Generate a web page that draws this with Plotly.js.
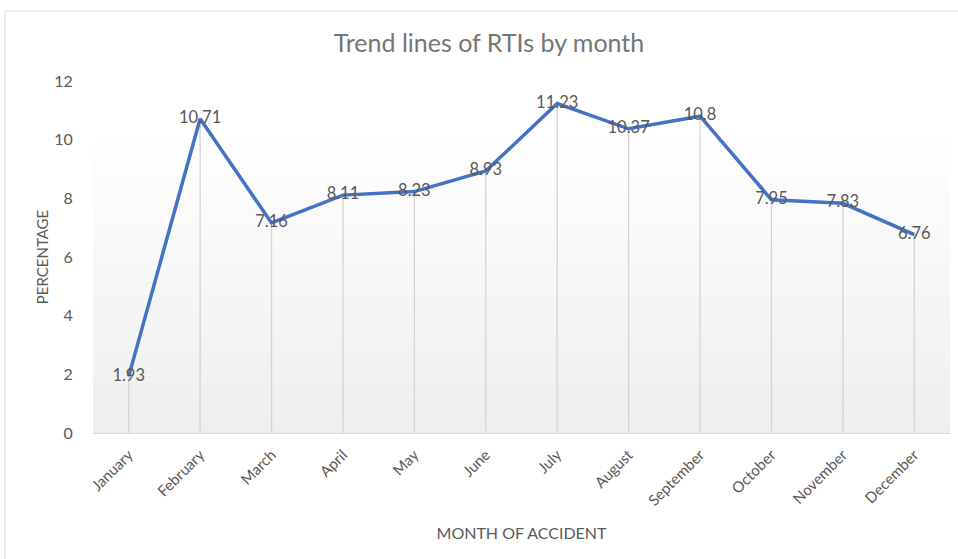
<!DOCTYPE html>
<html>
<head>
<meta charset="utf-8">
<script src="https://cdn.plot.ly/plotly-3.0.1.min.js"></script>
<style>
html,body{margin:0;padding:0;background:#fff;}
#chart{width:958px;height:559px;}
</style>
</head>
<body>
<div id="chart"></div>
<script>
const months = ["January","February","March","April","May","June","July","August","September","October","November","December"];
const percentages = [1.93, 10.71, 7.16, 8.11, 8.23, 8.93, 11.23, 10.37, 10.8, 7.95, 7.83, 6.76];
const yTicks = [0, 2, 4, 6, 8, 10, 12];

const FONT = "Lato, 'Open Sans', sans-serif";
const TXT = "#595959";

// gradient background for plot area (white top -> light grey bottom)
const shapes = [];
const steps = 60;
for (let i = 0; i < steps; i++) {
  const t = i / (steps - 1); // 0 bottom, 1 top
  const v = Math.round(238 + (255 - 238) * Math.min(1, t * 1.15));
  shapes.push({
    type: "rect", xref: "paper", yref: "paper", layer: "below",
    x0: 0, x1: 1, y0: i / steps, y1: (i + 1) / steps,
    fillcolor: `rgb(${v},${v},${v})`, line: {width: 0}
  });
}
// chart border
shapes.push({
  type: "rect", xref: "paper", yref: "paper", layer: "below",
  x0: -0.1027, x1: 1.2, y0: -0.6, y1: 1.199,
  fillcolor: "rgba(0,0,0,0)", line: {color: "#d9d9d9", width: 1}
});

const trace = {
  type: "scatter",
  mode: "lines+text",
  x: months,
  y: percentages,
  text: percentages.map(String),
  textposition: "middle center",
  textfont: {family: FONT, size: 16.5, color: TXT},
  line: {color: "#4472C4", width: 3.5},
  error_y: {
    type: "data", symmetric: false,
    array: percentages.map(() => 0),
    arrayminus: percentages,
    width: 0, thickness: 1.3, color: "#d4d4d4"
  },
  hoverinfo: "x+y",
  cliponaxis: false
};

const layout = {
  width: 958, height: 559,
  margin: {l: 93, r: 8, t: 81, b: 126},
  paper_bgcolor: "#ffffff",
  plot_bgcolor: "rgba(0,0,0,0)",
  font: {family: FONT, color: TXT},
  showlegend: false,
  title: {
    text: "Trend lines of RTIs by month",
    font: {family: FONT, size: 25, color: "#757575"},
    x: 489/958, xanchor: "center", y: 1 - 43/559, yanchor: "middle"
  },
  xaxis: {
    type: "category",
    range: [-0.5, 11.5],
    tickangle: -45,
    tickfont: {family: FONT, size: 15, color: TXT},
    showgrid: false,
    showline: true, linecolor: "#d9d9d9", linewidth: 1.3,
    ticks: "outside", ticklen: 6, tickcolor: "rgba(0,0,0,0)",
    zeroline: false,
    title: {text: "MONTH OF ACCIDENT", font: {family: FONT, size: 16, color: TXT}, standoff: 20}
  },
  yaxis: {
    range: [0, 12],
    tickvals: yTicks,
    ticktext: yTicks.map(String),
    tickfont: {family: FONT, size: 16, color: TXT},
    showgrid: false, zeroline: false, showline: false,
    ticks: "outside", ticklen: 16, tickcolor: "rgba(0,0,0,0)",
    title: {text: "PERCENTAGE", font: {family: FONT, size: 15, color: TXT}, standoff: 1}
  },
  shapes: shapes
};

Plotly.newPlot("chart", [trace], layout, {displayModeBar: false, staticPlot: true});
</script>
</body>
</html>
